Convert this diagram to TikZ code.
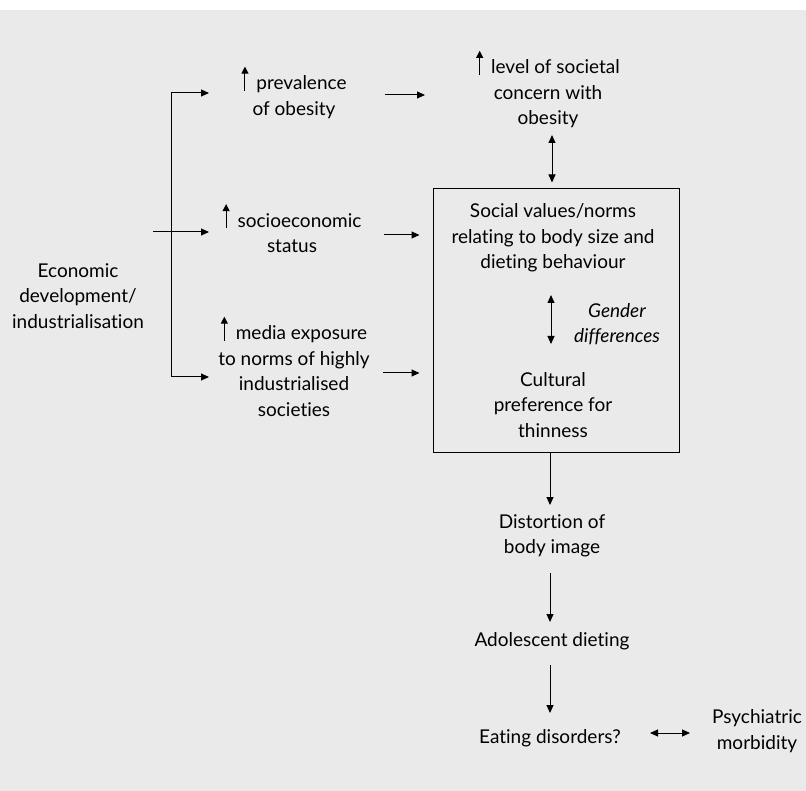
\documentclass[tikz,border=0pt]{standalone}
\usepackage{fontspec}
\setmainfont{Lato}[RawFeature=-liga]
\usetikzlibrary{positioning,arrows.meta}
\definecolor{paper}{RGB}{234,234,234}
\newcommand{\upar}{\smash{\tikz[baseline=0pt]\draw[-{Triangle[length=7pt,width=7pt]},line width=1pt] (0pt,-1pt) -- (0pt,23pt);}\hspace{8pt}}
\tikzset{
  >={Triangle[length=8pt,width=7pt]},
  every node/.style={align=center, inner sep=3pt, font=\fontsize{19}{25.5}\selectfont},
  frame/.style={draw, line width=1pt, minimum width=246pt, minimum height=263pt},
  link/.style={->, line width=1pt},
  both/.style={<->, line width=1pt},
}

\begin{document}
\begin{tikzpicture}[x=1pt,y=-1pt]
\useasboundingbox (0,0) rectangle (806,791);
\fill[white] (0,0) rectangle (806,791);
\fill[paper] (0,10) rectangle (806,791);

\node (econ) at (78,296) {Economic\\development/\\industrialisation};

\node (prev) at (294,97) {\upar prevalence\\of obesity};
\node (socio) at (292,233) {\upar socioeconomic\\status};
\node (media) at (294,371) {\upar media exposure\\to norms of highly\\industrialised\\societies};

\node (level) at (548,94) {\upar level of societal\\concern with\\obesity};

\node[frame] (box) at (556,320.5) {};
\node (social) at (553,238) {Social values/norms\\relating to body size and\\dieting behaviour};
\node[font=\fontsize{19}{25.5}\selectfont\itshape] (gender) at (617,324) {Gender\\differences};
\node (cult) at (553,405) {Cultural\\preference for\\thinness};

\node (distort) at (552,536) {Distortion of\\body image};
\node (adol) at (552,641) {Adolescent dieting};
\node (eat) at (550,738) {Eating disorders?};
\node (psych) at (757,731) {Psychiatric\\morbidity};

% branching from economic development
\coordinate (top) at (171,93);
\coordinate (bot) at (171,377);
\coordinate (start) at (153,232);
\draw[line width=1pt] (top) -- (bot);
\draw[link] (top) -- ([xshift=-85pt]prev.center |- top);
\draw[link] (start) -- ([xshift=-83pt]socio.center |- start);
\draw[link] (bot) -- ([xshift=-85pt]media.center |- bot);

% into the box
\draw[link] ([xshift=91pt]prev.center |- 0,95) -- ([xshift=-123pt]level.center |- 0,95);
\draw[link] ([xshift=92pt]socio.center |- 0,235) -- ([xshift=-13pt]box.west |- 0,235);
\draw[link] ([xshift=89pt]media.center |- 0,373) -- ([xshift=-13pt]box.west |- 0,373);
\draw[both] ([yshift=-41pt]level.center -| 552,0) -- ([yshift=6pt]box.north -| 552,0);
\draw[both] ([yshift=-57pt]social.center -| 551,0) -- ([yshift=61pt]cult.center -| 551,0);

% chain below
\draw[link] (box.south -| 550,0) -- ([yshift=31pt]distort.center -| 550,0);
\draw[link] ([yshift=-37pt]distort.center -| 550,0) -- ([yshift=19pt]adol.center -| 550,0);
\draw[link] ([yshift=-24pt]adol.center -| 550,0) -- ([yshift=25pt]eat.center -| 550,0);
\draw[both] ([xshift=100pt]eat.center |- 0,733) -- ([xshift=-67pt]psych.center |- 0,733);
\end{tikzpicture}
\end{document}
